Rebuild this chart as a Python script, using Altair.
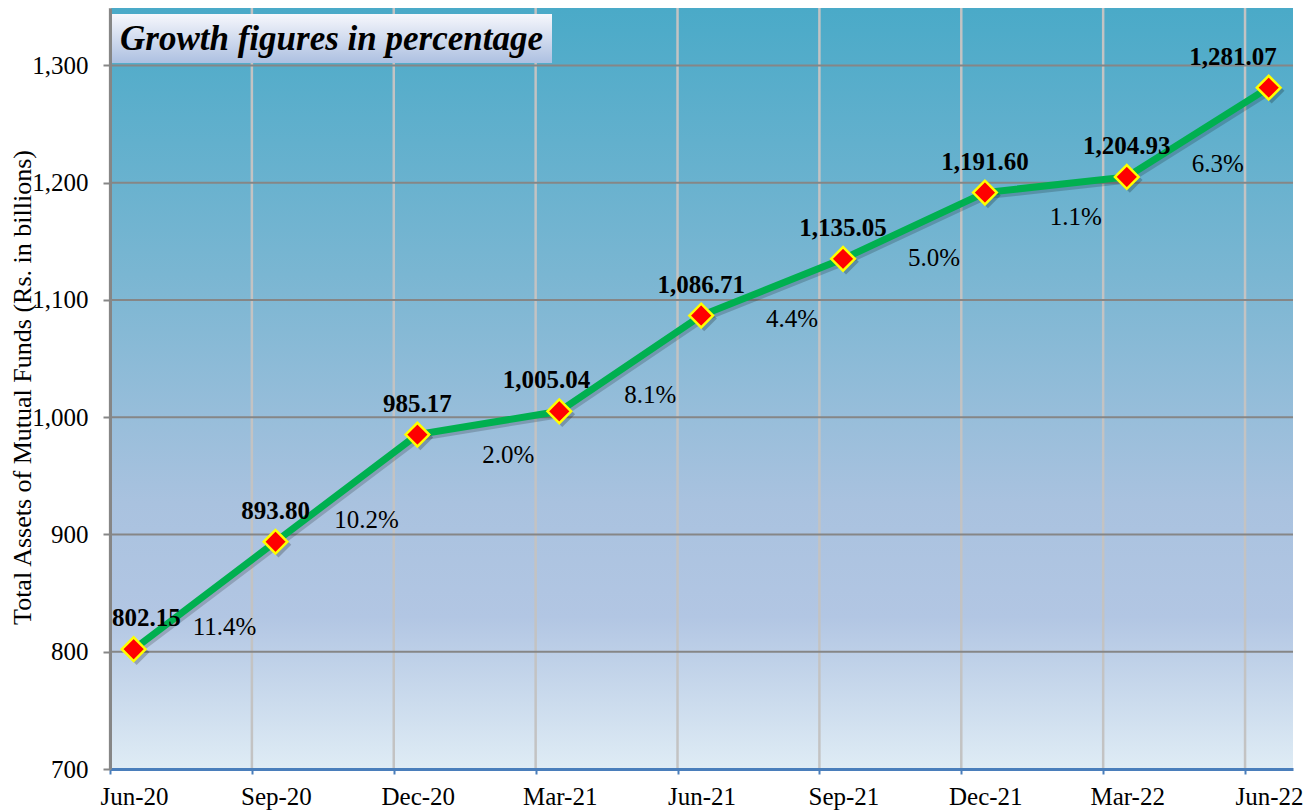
import json
import altair as alt
import pandas as pd

# ---------------- data ----------------
quarters = ["Jun-20", "Sep-20", "Dec-20", "Mar-21", "Jun-21",
            "Sep-21", "Dec-21", "Mar-22", "Jun-22"]
assets = [802.15, 893.80, 985.17, 1005.04, 1086.71,
          1135.05, 1191.60, 1204.93, 1281.07]
growth = [11.4, 10.2, 2.0, 8.1, 4.4, 5.0, 1.1, 6.3]
y_ticks = [700, 800, 900, 1000, 1100, 1200, 1300]
y_title = "Total Assets  of Mutual Funds (Rs. in billions)"
chart_title = "Growth figures in percentage"

# quarter index; observations sit at mid-month (half a month = 1/6 of a quarter step)
MID = 0.5 / 3
pts = pd.DataFrame({"i": list(range(len(quarters))), "quarter": quarters, "value": assets})
pts["x"] = pts["i"] + MID
pts["label"] = [f"{v:,.2f}" for v in assets]

seg = pd.DataFrame({
    "x": [(pts.x[k] + pts.x[k + 1]) / 2 for k in range(len(growth))],
    "y": [(assets[k] + assets[k + 1]) / 2 for k in range(len(growth))],
    "label": [f"{g:.1f}%" for g in growth],
})

W, H = 1183, 761
FONT = "Liberation Serif"

xs = alt.Scale(domain=[0, 8.338], nice=False, zero=False)
ys = alt.Scale(domain=[700, 1349], nice=False, zero=False)

X_AX = alt.Axis(values=list(range(len(quarters))),
                labelExpr=json.dumps(quarters) + "[datum.value]",
                labelOffset=24, grid=False,
                domainColor="#4a7ebb", domainWidth=3,
                tickColor="#4a7ebb", tickSize=5, tickWidth=2,
                labelFont=FONT, labelFontSize=25, labelColor="black",
                labelPadding=10, labelFlush=False, labelOverlap=False,
                title=None, zindex=1)
Y_AX = alt.Axis(values=y_ticks, format=",d", grid=False,
                domainColor="#868686", domainWidth=3,
                tickColor="#868686", tickSize=7, tickWidth=2,
                labelFont=FONT, labelFontSize=25, labelColor="black",
                labelPadding=15,
                title=y_title, titleFont=FONT, titleFontSize=26,
                titleFontWeight="normal", titleColor="black",
                titleX=-88, titleY=379, titleAngle=270,
                titleAlign="center", titleBaseline="middle", zindex=1)

one = pd.DataFrame({"a": [0]})

bg_grad = alt.Gradient(
    gradient="linear", x1=0, x2=0, y1=0, y2=1,
    stops=[alt.GradientStop(offset=0, color="#4aaac8"),
           alt.GradientStop(offset=0.35, color="#7ab6d2"),
           alt.GradientStop(offset=0.65, color="#a9c2df"),
           alt.GradientStop(offset=0.8, color="#b2c6e3"),
           alt.GradientStop(offset=1, color="#dfecf5")])

background = alt.Chart(one).mark_rect(fill=bg_grad, strokeWidth=0).encode(
    x=alt.value(0), x2=alt.value(W), y=alt.value(0), y2=alt.value(H))

vgrid = alt.Chart(pd.DataFrame({"t": list(range(len(quarters)))})).mark_rule(
    color="#c3c3c3", strokeWidth=2.5).encode(
    x=alt.X("t:Q", scale=xs, axis=X_AX))

hgrid = alt.Chart(pd.DataFrame({"v": y_ticks[1:]})).mark_rule(
    color="#868686", strokeWidth=2).encode(
    y=alt.Y("v:Q", scale=ys, axis=Y_AX))

box_grad = alt.Gradient(
    gradient="linear", x1=0, x2=0, y1=0, y2=1,
    stops=[alt.GradientStop(offset=0, color="#f6f7fc"),
           alt.GradientStop(offset=1, color="#adc0e1")])
title_box = alt.Chart(one).mark_rect(fill=box_grad, strokeWidth=0).encode(
    x=alt.value(2), x2=alt.value(442), y=alt.value(6), y2=alt.value(55))
title_text = alt.Chart(one).mark_text(
    text=chart_title, font=FONT, fontSize=35, fontWeight="bold",
    fontStyle="italic", align="left", baseline="alphabetic", color="black"
).encode(x=alt.value(10), y=alt.value(42))

enc_x = alt.X("x:Q", scale=xs, axis=X_AX)
enc_y = alt.Y("value:Q", scale=ys, axis=Y_AX)

line_shadow = alt.Chart(pts).mark_line(
    color="black", opacity=0.18, strokeWidth=7, xOffset=2, yOffset=3).encode(x=enc_x, y=enc_y)
line = alt.Chart(pts).mark_line(color="#00b050", strokeWidth=7).encode(x=enc_x, y=enc_y)

pt_shadow = alt.Chart(pts).mark_point(
    shape="diamond", filled=True, color="black", opacity=0.22, size=650,
    xOffset=3, yOffset=3).encode(x=enc_x, y=enc_y)
points = alt.Chart(pts).mark_point(
    shape="diamond", filled=True, fill="#ff0000", stroke="#ffff00",
    strokeWidth=2.5, size=560, opacity=1).encode(x=enc_x, y=enc_y)

val_labels = alt.Chart(pts).transform_filter("datum.i < 8").transform_calculate(
    lx="datum.x + (datum.i == 0 ? 0.09 : (datum.i == 3 ? -0.09 : 0))"
).mark_text(font=FONT, fontSize=25, fontWeight="bold", color="black",
            align="center", baseline="middle", dy=-31).encode(
    x=alt.X("lx:Q", scale=xs, axis=X_AX), y=enc_y, text="label:N")
last_label = alt.Chart(pts).transform_filter("datum.i == 8").mark_text(
    font=FONT, fontSize=25, fontWeight="bold", color="black",
    align="right", baseline="middle", dx=8, dy=-31).encode(
    x=enc_x, y=enc_y, text="label:N")

pct_labels = alt.Chart(seg).mark_text(
    font=FONT, fontSize=25, color="black", align="center",
    baseline="middle", dx=20, dy=32).encode(
    x=alt.X("x:Q", scale=xs, axis=X_AX),
    y=alt.Y("y:Q", scale=ys, axis=Y_AX), text="label:N")

chart = alt.layer(
    background, vgrid, hgrid, title_box, title_text,
    line_shadow, line, pct_labels, pt_shadow, points, val_labels, last_label
).properties(
    width=W, height=H,
    autosize=alt.AutoSizeParams(type="none"),
    padding={"left": 102, "top": 0, "right": 13, "bottom": 44},
).configure_view(stroke=None)

chart.save("out.html", embed_options={"renderer": "svg", "actions": False})
